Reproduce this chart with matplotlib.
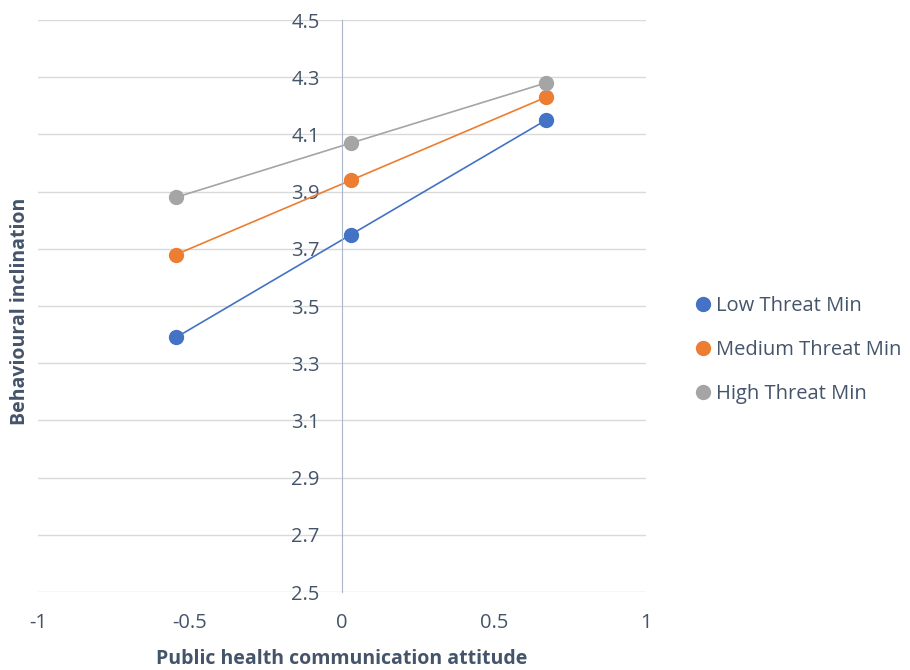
import matplotlib
matplotlib.use('Agg')
import matplotlib.pyplot as plt

# data
attitude = [-0.546, 0.03, 0.671]
low_threat = [3.39, 3.75, 4.15]
medium_threat = [3.68, 3.94, 4.23]
high_threat = [3.88, 4.07, 4.28]
series_names = ['Low Threat Min', 'Medium Threat Min', 'High Threat Min']
series_colors = ['#4472C4', '#ED7D31', '#A5A5A5']
yticks = [2.5, 2.7, 2.9, 3.1, 3.3, 3.5, 3.7, 3.9, 4.1, 4.3, 4.5]
xticks = [-1, -0.5, 0, 0.5, 1]
xtick_labels = ['-1', '-0.5', '0', '0.5', '1']

txt = '#44546A'
plt.rcParams['font.family'] = ['Open Sans', 'DejaVu Sans']

fig = plt.figure(figsize=(9.1, 6.7), dpi=100)
ax = fig.add_axes([38/910, 1 - 592/670, 608/910, 572/670])

for ys, name, c in zip([low_threat, medium_threat, high_threat], series_names, series_colors):
    ax.plot(attitude, ys, color=c, lw=1.2, marker='o', ms=10, label=name)

ax.set_xlim(-1, 1)
ax.set_ylim(2.5, 4.5)
ax.set_yticks(yticks)
ax.set_yticklabels(['%.1f' % v for v in yticks])
ax.set_xticks(xticks)
ax.set_xticklabels(xtick_labels)
ax.grid(axis='y', color='#D9D9D9', lw=1)
ax.set_axisbelow(True)

for s in ['top', 'right', 'bottom']:
    ax.spines[s].set_visible(False)
ax.spines['left'].set_position(('data', 0))
ax.spines['left'].set_color('#A9B6CC')
ax.tick_params(length=0, labelsize=14.5, colors=txt)
ax.tick_params(axis='y', pad=16)
ax.tick_params(axis='x', pad=15)

ax.set_xlabel('Public health communication attitude', fontsize=14, fontweight='bold',
              color=txt, labelpad=11.5)
fig.text(20/910, 1 - 311/670, 'Behavioural inclination', rotation=90, fontsize=14,
         fontweight='bold', color=txt, ha='center', va='center')

leg = fig.legend(loc='upper left', bbox_to_anchor=(677/910, 1 - 278/670), frameon=False,
                 fontsize=14.5, handlelength=0.8, handletextpad=0.25, labelspacing=1.2,
                 labelcolor=txt)
for h in leg.legend_handles:
    h.set_linestyle('None')

fig.savefig('out.png', dpi=100)
